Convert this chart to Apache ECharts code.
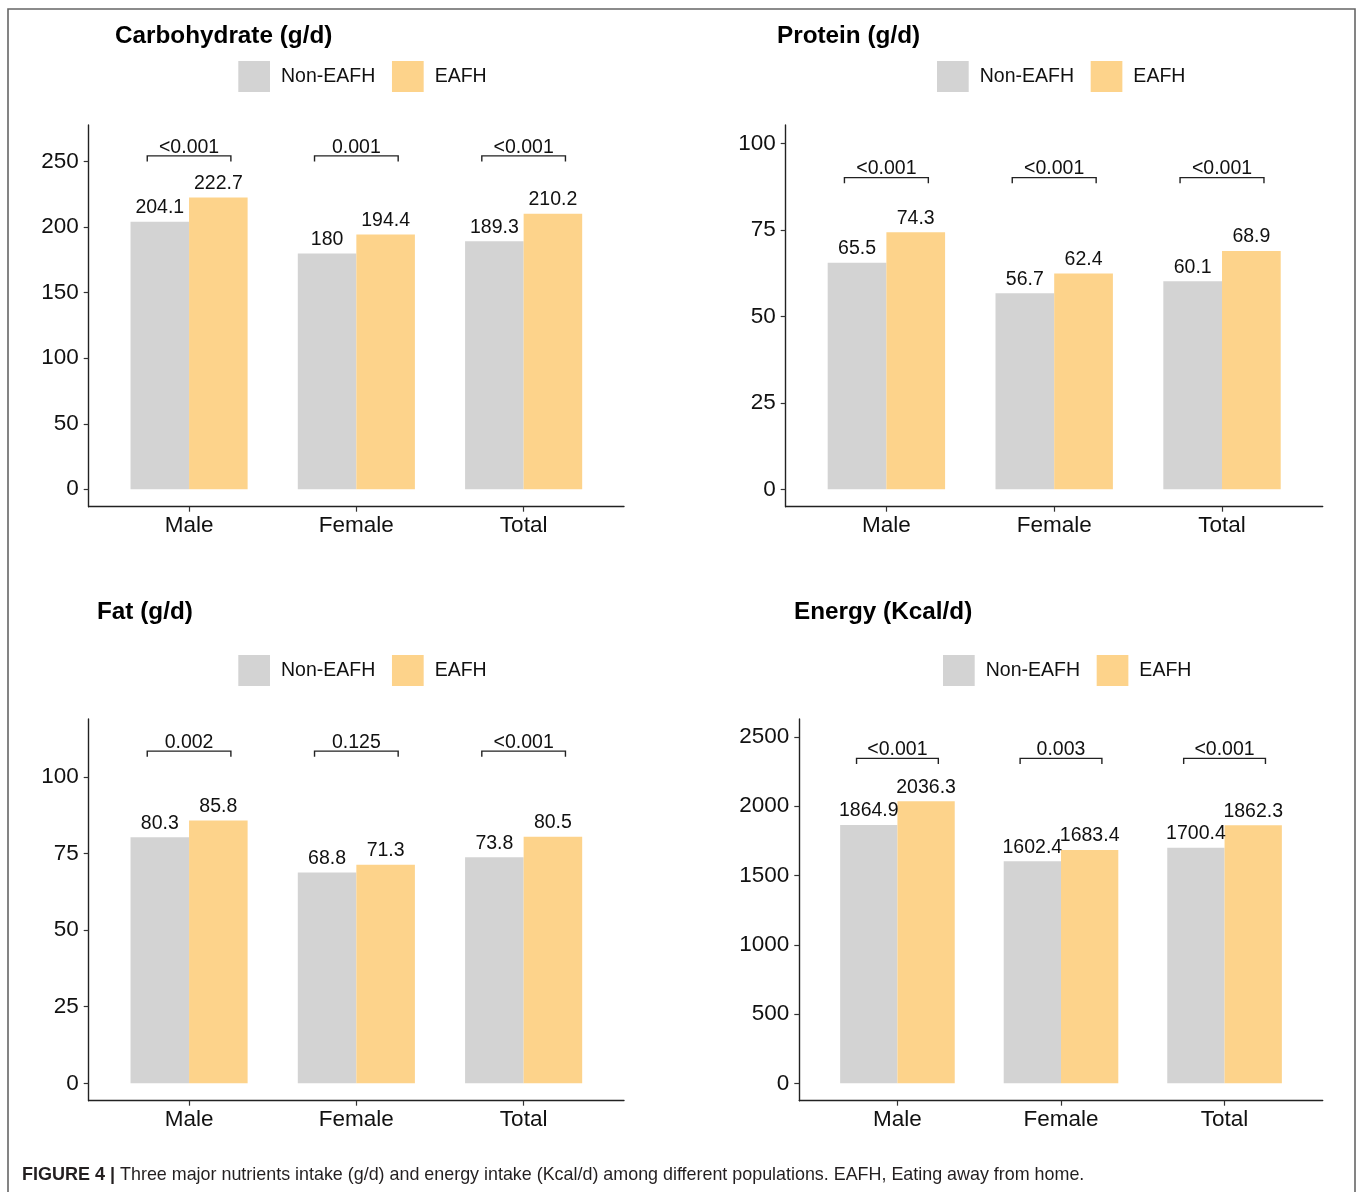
<!DOCTYPE html>
<html>
<head>
<meta charset="utf-8">
<script src="https://cdn.jsdelivr.net/npm/echarts@6/dist/echarts.min.js"></script>
<style>
html,body{margin:0;padding:0;background:#fff;}
#c{width:1358px;height:1192px;}
</style>
</head>
<body>
<div id="c"></div>
<script>
// ---- data ----
const categories = ['Male', 'Female', 'Total'];
const seriesNames = ['Non-EAFH', 'EAFH'];

const carbNon = [204.1, 180, 189.3];
const carbEafh = [222.7, 194.4, 210.2];
const carbP = ['<0.001', '0.001', '<0.001'];
const carbTicks = [0, 50, 100, 150, 200, 250];
const carbBracket = 254.4;

const protNon = [65.5, 56.7, 60.1];
const protEafh = [74.3, 62.4, 68.9];
const protP = ['<0.001', '<0.001', '<0.001'];
const protTicks = [0, 25, 50, 75, 100];
const protBracket = 90.1;

const fatNon = [80.3, 68.8, 73.8];
const fatEafh = [85.8, 71.3, 80.5];
const fatP = ['0.002', '0.125', '<0.001'];
const fatTicks = [0, 25, 50, 75, 100];
const fatBracket = 108.4;

const enNon = [1864.9, 1602.4, 1700.4];
const enEafh = [2036.3, 1683.4, 1862.3];
const enP = ['<0.001', '0.003', '<0.001'];
const enTicks = [0, 500, 1000, 1500, 2000, 2500];
const enBracket = 2346;

const titles = ['Carbohydrate (g/d)', 'Protein (g/d)', 'Fat (g/d)', 'Energy (Kcal/d)'];
const caption = 'Three major nutrients intake (g/d) and energy intake (Kcal/d) among different populations. EAFH, Eating away from home.';

// ---- styling / layout ----
const FONT = "'Liberation Sans', Arial, Helvetica, sans-serif";
const GRAY = '#D3D3D3';
const ORANGE = '#FDD38B';
const INK = '#111';

const panels = [
  {non: carbNon, eafh: carbEafh, p: carbP, ticks: carbTicks, br: carbBracket,
   grid: {left: 88.7, top: 125, width: 535.3, height: 381.7}, ymin: -13.3, ymax: 278.0, bw: 58.55,
   title: {left: 115, top: 24}, legend: {left: 238.3, top: 61}},
  {non: protNon, eafh: protEafh, p: protP, ticks: protTicks, br: protBracket,
   grid: {left: 785.7, top: 125, width: 537, height: 381.7}, ymin: -5.03, ymax: 105.3, bw: 58.7,
   title: {left: 777, top: 24}, legend: {left: 937, top: 61}},
  {non: fatNon, eafh: fatEafh, p: fatP, ticks: fatTicks, br: fatBracket,
   grid: {left: 88.7, top: 719, width: 535.3, height: 381.7}, ymin: -5.68, ymax: 118.9, bw: 58.55,
   title: {left: 97, top: 600}, legend: {left: 238.3, top: 655}},
  {non: enNon, eafh: enEafh, p: enP, ticks: enTicks, br: enBracket,
   grid: {left: 799.3, top: 719, width: 523.4, height: 381.7}, ymin: -125.6, ymax: 2630, bw: 57.3,
   title: {left: 794, top: 600}, legend: {left: 943, top: 655}}
];

const option = {
  animation: false,
  backgroundColor: '#fff',
  title: [], legend: [], grid: [], xAxis: [], yAxis: [], series: [],
  graphic: [
    {type: 'polyline', silent: true,
     shape: {points: [[8, 1192], [8, 9], [1355, 9], [1355, 1192]]},
     style: {stroke: '#666', lineWidth: 1.6, fill: null}}
  ]
};

panels.forEach((pn, i) => {
  option.title.push({
    text: titles[i], left: pn.title.left, top: pn.title.top, padding: 0,
    textStyle: {fontFamily: FONT, fontSize: 24.3, fontWeight: 'bold', color: '#000'}
  });
  option.legend.push({
    data: seriesNames, left: pn.legend.left, top: pn.legend.top, padding: 0,
    orient: 'horizontal', icon: 'rect', itemWidth: 31.7, itemHeight: 31, itemGap: 16.7,
    selectedMode: false,
    textStyle: {fontFamily: FONT, fontSize: 19.5, color: INK, padding: [6, 0, 0, 6]}
  });
  option.grid.push(Object.assign({}, pn.grid));
  option.xAxis.push({
    type: 'value', gridIndex: i, min: 0.4, max: 3.6,
    splitLine: {show: false},
    axisLine: {show: true, onZero: false, lineStyle: {color: '#222', width: 1.4}},
    axisTick: {show: true, length: 5, customValues: [1, 2, 3], lineStyle: {color: '#333', width: 1.2}},
    axisLabel: {show: true, customValues: [1, 2, 3], margin: 8,
      formatter: v => categories[Math.round(v) - 1],
      fontFamily: FONT, fontSize: 22.5, color: INK}
  });
  option.yAxis.push({
    type: 'value', gridIndex: i, min: pn.ymin, max: pn.ymax,
    splitLine: {show: false},
    axisLine: {show: true, onZero: false, lineStyle: {color: '#222', width: 1.4}},
    axisTick: {show: true, length: 5, customValues: pn.ticks, lineStyle: {color: '#333', width: 1.2}},
    axisLabel: {show: true, customValues: pn.ticks, margin: 10,
      formatter: v => String(v),
      fontFamily: FONT, fontSize: 22.5, color: INK}
  });
  const mk = (name, vals, color) => ({
    type: 'bar', name: name, xAxisIndex: i, yAxisIndex: i,
    data: vals.map((v, k) => [k + 1, v]),
    barWidth: pn.bw, barGap: '0%',
    itemStyle: {color: color},
    label: {show: true, position: 'top', distance: 4,
      formatter: p => String(p.value[1]),
      fontFamily: FONT, fontSize: 19.5, color: INK}
  });
  option.series.push(mk(seriesNames[0], pn.non, GRAY));
  option.series.push(mk(seriesNames[1], pn.eafh, ORANGE));
  const pv = pn.p;
  option.series.push({
    type: 'custom', xAxisIndex: i, yAxisIndex: i,
    data: categories.map((c, k) => [k + 1, pn.br]),
    encode: {x: 0, y: 1},
    renderItem: (params, api) => {
      const x = api.value(0), y = api.value(1);
      const a = api.coord([x - 0.25, y]);
      const b = api.coord([x + 0.25, y]);
      return {
        type: 'group',
        children: [
          {type: 'polyline',
           shape: {points: [[a[0], a[1] + 5.7], [a[0], a[1]], [b[0], b[1]], [b[0], b[1] + 5.7]]},
           style: {stroke: '#222', lineWidth: 1.4, fill: null}},
          {type: 'text',
           style: {text: pv[params.dataIndex], x: (a[0] + b[0]) / 2, y: a[1] + 1.5,
                   align: 'center', verticalAlign: 'bottom',
                   fontFamily: FONT, fontSize: 19.5, fill: INK}}
        ]
      };
    }
  });
});

option.title.push({
  text: '{b|FIGURE 4 |} {r|' + caption + '}',
  left: 22, top: 1166, padding: 0,
  textStyle: {
    fontWeight: 'normal',
    rich: {
      b: {fontFamily: FONT, fontSize: 18, fontWeight: 'bold', color: '#231F20'},
      r: {fontFamily: FONT, fontSize: 17.9, fontWeight: 'normal', color: '#231F20'}
    }
  }
});

const chart = echarts.init(document.getElementById('c'), null, {renderer: 'canvas'});
chart.setOption(option);
</script>
</body>
</html>
